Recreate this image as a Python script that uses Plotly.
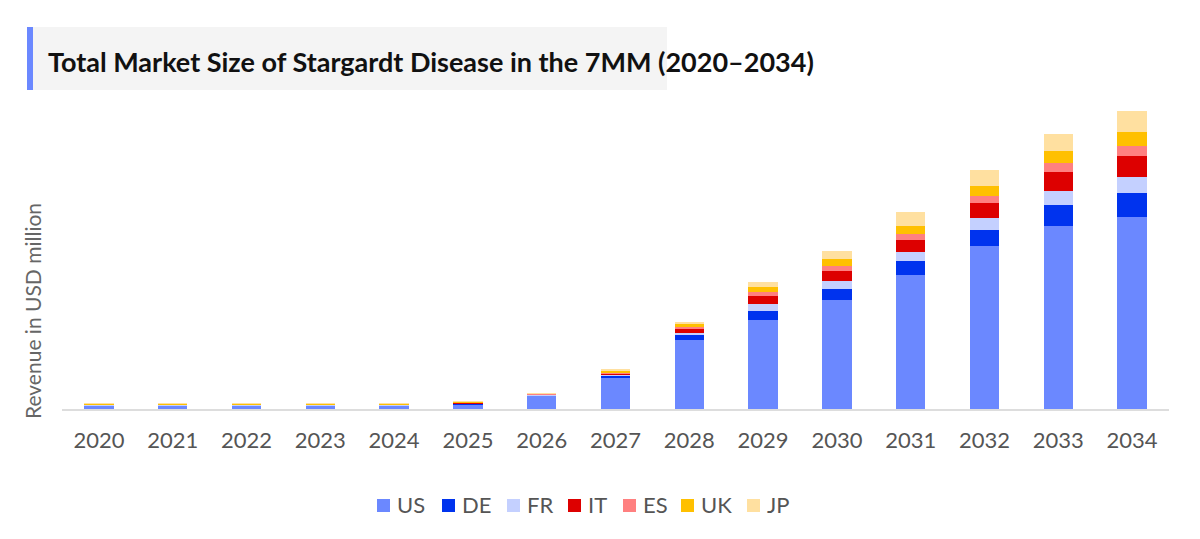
import plotly.graph_objects as go

years = [str(y) for y in range(2020, 2035)]
countries = ["US", "DE", "FR", "IT", "ES", "UK", "JP"]

# (arbitrary units, no value axis shown)
us = [3.6, 3.6, 3.6, 3.6, 3.6, 4.8, 13.3, 31.3, 69.0, 89.3, 108.6, 133.6, 162.6, 183.0, 192.0]
de = [0.3, 0.3, 0.3, 0.3, 0.3, 0.6, 0.6, 2.0, 5.0, 9.0, 11.4, 14.0, 16.7, 21.0, 23.6]
fr = [0.2, 0.2, 0.2, 0.2, 0.2, 0.3, 0.3, 1.0, 2.3, 7.0, 8.3, 9.4, 11.7, 13.6, 16.4]
it = [0.3, 0.3, 0.3, 0.3, 0.3, 0.6, 0.6, 1.6, 4.4, 8.0, 10.0, 12.3, 15.0, 19.0, 21.3]
es = [0.2, 0.2, 0.2, 0.2, 0.2, 0.3, 0.3, 1.0, 1.6, 3.7, 5.0, 5.7, 7.3, 9.0, 10.0]
uk = [0.4, 0.4, 0.4, 0.4, 0.4, 0.6, 0.5, 1.5, 2.4, 5.3, 6.7, 7.6, 10.0, 12.0, 13.7]
jp = [0.3, 0.3, 0.3, 0.3, 0.3, 0.6, 0.4, 1.3, 2.3, 5.0, 8.3, 14.0, 15.3, 17.7, 20.6]

series = [us, de, fr, it, es, uk, jp]
colors = ["#6b88ff", "#0033ee", "#c4d0ff", "#dd0000", "#ff8080", "#ffc000", "#ffe0a0"]

INK = "#555555"

# plot area on screen: x 62..1169, y 100..409 (page body adds an 8px margin)
X0, W, Y0, H = 62, 1107, 409, 309
px = lambda x: (x - X0) / W
py = lambda y: (Y0 - y) / H

fig = go.Figure()
for name, vals, c in zip(countries, series, colors):
    fig.add_trace(go.Bar(x=years, y=vals, name=name, marker=dict(color=c, line=dict(width=0)),
                         showlegend=False))

fig.update_layout(
    width=1200, height=539,
    barmode="stack", bargap=0.6,
    margin=dict(l=54, r=39, t=92, b=138),
    paper_bgcolor="white", plot_bgcolor="white",
    font=dict(family="Lato, 'Open Sans', sans-serif", color=INK, size=21),
)
fig.update_xaxes(showgrid=False, showline=True, linecolor="#dddddd", linewidth=2,
                 ticks="", ticklabelstandoff=11, tickfont=dict(size=22, color=INK))
fig.update_yaxes(range=[0, 309], showgrid=False, showticklabels=False, zeroline=False,
                 showline=False)

# title box with blue accent bar
fig.add_shape(type="rect", xref="paper", yref="paper", x0=px(27), x1=px(667), y0=py(90), y1=py(27),
              fillcolor="#f4f4f4", line=dict(width=0), layer="below")
fig.add_shape(type="rect", xref="paper", yref="paper", x0=px(27), x1=px(33), y0=py(90), y1=py(27),
              fillcolor="#6b88ff", line=dict(width=0))
fig.add_annotation(text="<b>Total Market Size of Stargardt Disease in the 7MM (2020–2034)</b>",
                   xref="paper", yref="paper", x=px(46), y=py(61), xanchor="left", yanchor="middle",
                   showarrow=False, font=dict(size=27, color="#111111", family="Lato, sans-serif"))
fig.add_annotation(text="Revenue in USD million", xref="paper", yref="paper",
                   x=px(32), y=py(311), xanchor="center", yanchor="middle", textangle=-90,
                   showarrow=False, font=dict(size=21, color="#666666"))

# compact legend row (square swatch + label), tighter than plotly's built-in legend
swatch_left = [377, 442, 507, 568, 623, 681, 747]
for left, name, c in zip(swatch_left, countries, colors):
    fig.add_shape(type="rect", xref="paper", yref="paper", x0=px(left), x1=px(left + 13),
                  y0=py(512), y1=py(499), fillcolor=c, line=dict(width=0))
    fig.add_annotation(text=name, xref="paper", yref="paper", x=px(left + 18), y=py(505),
                       xanchor="left", yanchor="middle", showarrow=False,
                       font=dict(size=22, color=INK))

fig.write_html("out.html")
